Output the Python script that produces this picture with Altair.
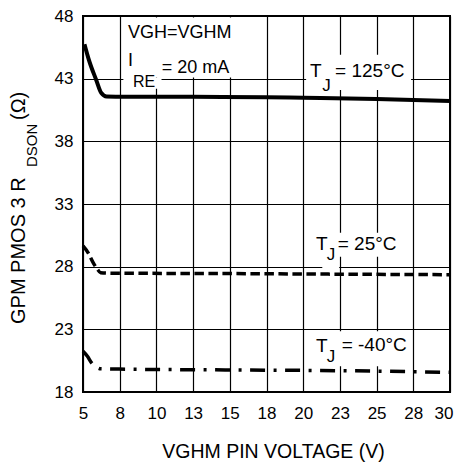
import altair as alt
import pandas as pd

# ---------------- data ----------------
X_TICKS = [5, 7.5, 10, 12.5, 15, 17.5, 20, 22.5, 25, 27.5, 30]
Y_TICKS = [18, 23, 28, 33, 38, 43, 48]

v_125 = [5.1, 5.4, 5.9, 6.25, 6.6, 8.0, 12.5, 17.5, 20.0, 25.0, 30.0]
r_125 = [45.75, 44.5, 42.9, 41.85, 41.58, 41.56, 41.55, 41.52, 41.48, 41.38, 41.22]

v_25 = [5.0, 5.35, 5.7, 5.95, 6.2, 7.0, 15.0, 22.5, 30.0]
r_25 = [29.65, 29.1, 28.3, 27.85, 27.52, 27.48, 27.45, 27.4, 27.36]

v_m40 = [5.0, 5.3, 5.6, 5.95, 6.2, 8.0, 15.0, 22.5, 30.0]
r_m40 = [21.25, 20.85, 20.3, 19.95, 19.85, 19.82, 19.76, 19.7, 19.57]

SERIES = ["125", "25", "-40"]

rows = []
for name, vs, rs in zip(SERIES, [v_125, v_25, v_m40], [r_125, r_25, r_m40]):
    for v, r in zip(vs, rs):
        rows.append({"V": v, "R": r, "series": name})
df = pd.DataFrame(rows)

# annotation texts
ann_text = ["VGH=VGHM", "I", "RE", "= 20 mA",
            "T", "J", "= 125°C",
            "T", "J", "= 25°C",
            "T", "J", "= -40°C"]

# ---------------- layout / styles ----------------
FONT = "Liberation Sans"
ann_pos = [(8.07, 46.24, 18), (8.07, 44.01, 18), (8.4, 42.36, 16), (10.36, 43.43, 18),
           (20.46, 43.16, 19), (21.3, 42.04, 17), (22.17, 43.16, 19),
           (20.87, 29.35, 19), (21.6, 28.5, 17), (22.35, 29.33, 19),
           (20.87, 21.21, 19), (21.6, 20.41, 17), (22.62, 21.26, 19)]
ann = pd.DataFrame([{"x": p[0], "y": p[1], "fs": p[2], "text": t}
                    for t, p in zip(ann_text, ann_pos)])

boxes = pd.DataFrame([
    {"x1": 7.75, "x2": 16.4, "y1": 43.1, "y2": 47.88},
    {"x1": 7.75, "x2": 10.35, "y1": 42.2, "y2": 43.1},
    {"x1": 20.2, "x2": 27.35, "y1": 42.1, "y2": 44.9},
    {"x1": 20.7, "x2": 26.8, "y1": 28.8, "y2": 30.7},
    {"x1": 21.3, "x2": 22.45, "y1": 27.85, "y2": 28.8},
    {"x1": 20.7, "x2": 27.1, "y1": 20.05, "y2": 22.85},
])

xscale = alt.Scale(domain=[5, 30], nice=False, zero=False)
yscale = alt.Scale(domain=[18, 48], nice=False, zero=False)

xaxis = alt.Axis(values=X_TICKS, labelExpr="round(datum.value)",
                 title="VGHM PIN VOLTAGE (V)", grid=True, gridColor="black",
                 gridWidth=1.2, gridOpacity=1, ticks=False, domain=False,
                 labelFlush=False, labelOverlap=False, labelFont=FONT,
                 labelFontSize=17, labelColor="black", labelBaseline="alphabetic",
                 labelAlign={"condition": {"test": "datum.value >= 30", "value": "right"},
                             "value": "center"},
                 labelOffset={"condition": {"test": "datum.value >= 30", "value": 3},
                              "value": 0},
                 labelPadding=26, titleFont=FONT, titleFontSize=19.5,
                 titleFontWeight="normal", titleColor="black", titleX=190,
                 titleY=65, titleBaseline="alphabetic", titleAlign="center")
yaxis = alt.Axis(values=Y_TICKS, title=None, grid=True, gridColor="black",
                 gridWidth=1.2, gridOpacity=1, ticks=False, domain=False,
                 labelFlush=False, labelOverlap=False, labelFont=FONT,
                 labelFontSize=17, labelColor="black", labelBaseline="middle",
                 labelPadding=10)


def X(f):
    return alt.X(f, type="quantitative", scale=xscale, axis=xaxis)


def Y(f):
    return alt.Y(f, type="quantitative", scale=yscale, axis=yaxis)


rects = alt.Chart(boxes).mark_rect(color="white", opacity=1).encode(
    x=X("x1"), x2="x2", y=Y("y1"), y2="y2")

styles = {"125": dict(strokeWidth=4),
          "25": dict(strokeWidth=3.5, strokeDash=[9.5, 4.5]),
          "-40": dict(strokeWidth=3.5, strokeDash=[15, 8.5, 3, 8.5])}
line_layers = []
for s in SERIES:
    line_layers.append(
        alt.Chart(df).transform_filter(alt.datum.series == s)
        .mark_line(interpolate="monotone", color="black", strokeCap="butt",
                   **styles[s])
        .encode(x=X("V"), y=Y("R"), order="V:Q"))

texts = alt.Chart(ann).mark_text(align="left", baseline="alphabetic",
                                 font=FONT, color="black").encode(
    x=X("x"), y=Y("y"), text="text:N",
    size=alt.Size("fs:Q", scale=None, legend=None))

one = pd.DataFrame({"k": [0]})


def ytitle(text, px, py, fs):
    return alt.Chart(one).mark_text(angle=270, align="left",
                                    baseline="alphabetic", font=FONT,
                                    fontSize=fs, color="black").encode(
        x=alt.value(px), y=alt.value(py), text=alt.value(text))


yt = [ytitle("GPM PMOS 3 R", -58, 308, 20),
      ytitle("DSON", -46, 151, 15),
      ytitle("(Ω)", -58, 104, 20)]

chart = alt.layer(rects, *line_layers, texts, *yt).properties(
    width=367, height=376,
    autosize=alt.AutoSizeParams(type="none"),
    padding={"left": 75, "top": 8, "right": 4, "bottom": 70},
).configure_view(stroke="black", strokeWidth=2)

chart.save("out.html", embed_options={"renderer": "svg", "actions": False})
